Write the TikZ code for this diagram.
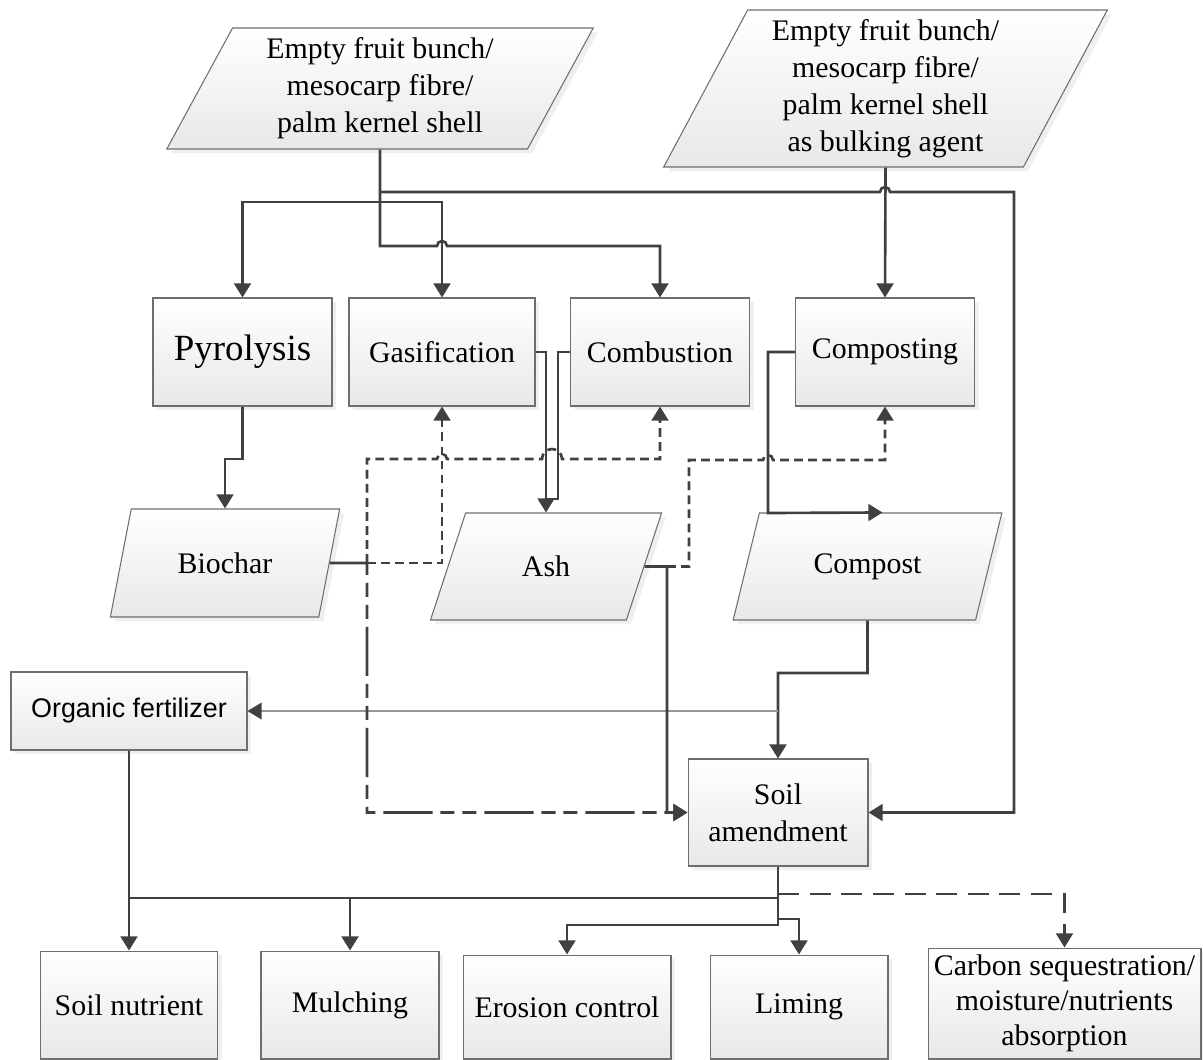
\documentclass[tikz,border=0pt]{standalone}
\usepackage{fontspec}
\setmainfont{Liberation Serif}
\newfontfamily\arialfont{Liberation Sans}
\usetikzlibrary{arrows.meta,shapes.geometric,shadows}
\definecolor{linegray}{RGB}{64,64,64}
\definecolor{edgegray}{RGB}{110,110,110}
\definecolor{thingray}{RGB}{150,150,150}

\tikzset{
  boxbase/.style={draw=edgegray, line width=0.6pt, top color=white, bottom color=black!9,
    drop shadow={shadow xshift=2.5pt, shadow yshift=-2.5pt, fill=black!12},
    inner sep=0pt, align=center, font=\fontsize{17}{21}\selectfont},
  procbox/.style={boxbase, rectangle, minimum width=3.58cm, minimum height=2.16cm},
  databox/.style={boxbase, trapezium, trapezium left angle=63.4, trapezium right angle=116.6,
    trapezium stretches=true},
  conn/.style={draw=linegray, line width=1.5pt, -{Triangle[length=8pt,width=9.5pt]}},
  link/.style={draw=linegray, line width=1.5pt},
  fb/.style={conn, dash pattern=on 5pt off 3pt},
  fblong/.style={conn, dash pattern=on 28pt off 4.5pt on 8pt off 4.5pt on 8pt off 4.5pt},
  fbuse/.style={conn, dash pattern=on 12pt off 6pt},
  thinconn/.style={draw=thingray, line width=0.7pt, -{Triangle[length=8pt,width=9.5pt,color=linegray]}}
}

\begin{document}
\begin{tikzpicture}[x=0.02cm, y=-0.02cm]
\useasboundingbox (0,0) rectangle (1203,1059);

% Feedstock
\node[databox, minimum width=8.54cm, minimum height=2.42cm] (feed) at (380,88.5)
  {Empty fruit bunch/\\mesocarp fibre/\\palm kernel shell};
\node[databox, minimum width=8.9cm, minimum height=3.14cm] (bulk) at (885.5,88.5)
  {Empty fruit bunch/\\mesocarp fibre/\\palm kernel shell\\as bulking agent};

% Conversion routes
\node[procbox, font=\fontsize{21}{25}\selectfont] (pyro) at (242.5,352) {Pyrolysis};
\node[procbox, minimum width=3.72cm] (gasif) at (442,352) {Gasification};
\node[procbox] (combu) at (660,352) {Combustion};
\node[procbox] (compo) at (885,352) {Composting};

% Products
\node[databox, minimum width=4.62cm, minimum height=2.16cm] (biochar) at (225,563) {Biochar};
\node[databox, minimum width=4.64cm, minimum height=2.14cm] (ash) at (546,566.5) {Ash};
\node[databox, minimum width=5.38cm, minimum height=2.14cm] (compost) at (867.5,566.5) {Compost};

\node[procbox, minimum width=4.72cm, minimum height=1.56cm,
  font=\arialfont\fontsize{15.3}{18}\selectfont] (orgfert) at (129,711) {Organic fertilizer};
\node[procbox, minimum width=3.6cm, minimum height=2.14cm] (soilam) at (778,812.5) {Soil\\amendment};

% Uses
\node[procbox, minimum width=3.54cm] (nutrient) at (129,1005) {Soil nutrient};
\node[procbox, minimum width=3.56cm] (mulch) at (350,1005) {Mulching};
\node[procbox, minimum width=4.16cm, minimum height=2.08cm] (erosion) at (567,1007) {Erosion control};
\node[procbox, minimum width=3.56cm, minimum height=2.08cm] (liming) at (799,1007) {Liming};
\node[procbox, minimum width=5.46cm, minimum height=2.22cm, font=\fontsize{17}{20}\selectfont]
  (carbon) at (1064.5,1003.5) {Carbon sequestration/\\moisture/nutrients\\absorption};

% Feedstock to routes
\coordinate (split) at (380,202);
\coordinate (trunk) at (380,192);
\draw[conn] (feed.south) -- (380,246) -- (437,246) arc[start angle=180, end angle=0, radius=0.1cm]
  -- (660,246) -- (combu.north);
\draw[conn] (split) -| (pyro.north);
\draw[conn] (split) -| (gasif.north);
\draw[conn] (trunk) -- (880,192) arc[start angle=180, end angle=0, radius=0.1cm]
  -- (1014,192) |- (soilam.east);
\draw[conn] (bulk.south) -- (compo.north);

% Routes to products
\draw[conn] (pyro.south) -- (242.5,459) -| (biochar.north);
\draw[conn] (gasif.east) -| (ash.north);
\draw[link] (combu.west) -- (558,352) -- (558,499) -- (546,499);
\draw[conn] (compo.west) -- (768,352) -- (768,513) -- ([xshift=0.3cm]compost.north);

% Products to soil amendment
\coordinate (bioout) at (367,563);
\coordinate (ashout) at (667,566.5);
\draw[conn] (compost.south) -- (867.5,673) -| (soilam.north);
\draw[thinconn] (778,711) -- (orgfert.east);
\draw[fblong] (biochar.east) -- (bioout) |- (soilam.west);
\draw[fb] (bioout) -| (gasif.south);
\draw[fb] (bioout) -- (367,459) -- (437,459) arc[start angle=180, end angle=0, radius=0.1cm]
  -- (542,459) arc[start angle=180, end angle=0, radius=0.2cm] -- (660,459) -- (combu.south);
\draw[conn] (ash.east) -- (ashout) |- (soilam.west);
\draw[fb] (ashout) -- (689,566.5) -- (689,460) -- (763,460) arc[start angle=180, end angle=0, radius=0.1cm]
  -- (885,460) -- (compo.south);

% Soil amendment to uses
\draw[link] (soilam.south) -- (778,898) -- (129,898);
\draw[conn] (orgfert.south) -- (nutrient.north);
\draw[conn] (350,898) -- (mulch.north);
\draw[conn] (778,898) -- (778,925) -| (erosion.north);
\draw[conn] (778,919) -| (liming.north);
\draw[fbuse] (778,894) -| (carbon.north);

\end{tikzpicture}
\end{document}
